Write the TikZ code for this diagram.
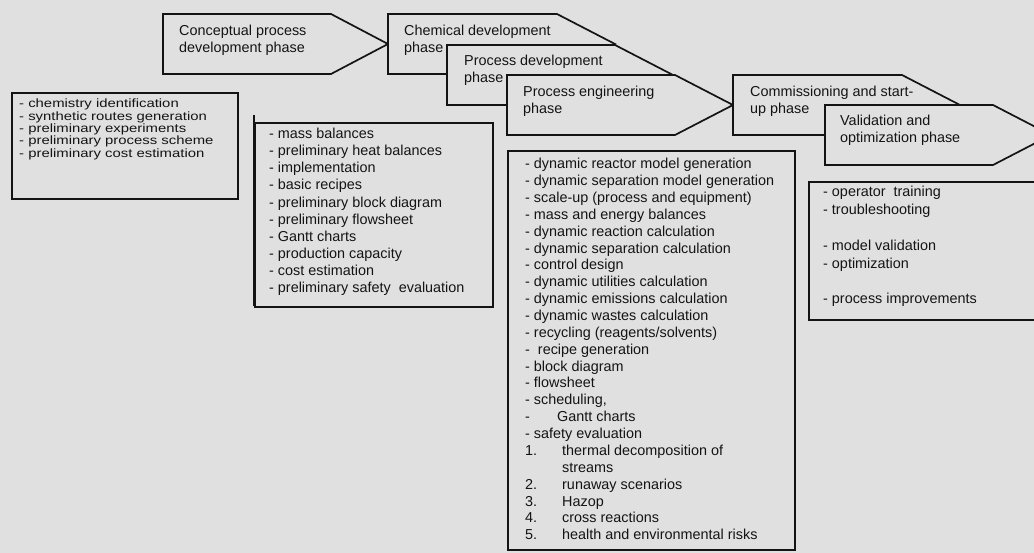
\documentclass[tikz,border=0pt]{standalone}
\usepackage{fontspec}
\setmainfont{Liberation Sans}
\newfontfamily\widefont[FakeStretch=1.24]{Liberation Sans}
\definecolor{paper}{RGB}{224,224,224}
\definecolor{ink}{RGB}{20,20,20}
\begin{document}
\begin{tikzpicture}[x=1pt,y=-1pt,
  phase/.style={draw=ink,line width=1.7pt,fill=paper,line join=miter},
  listbox/.style={draw=ink,line width=1.3pt},
  lbl/.style={anchor=base west,inner sep=0pt,align=left,text=ink,
    font=\fontsize{14.4}{16.7}\selectfont},
  small/.style={anchor=base west,inner sep=0pt,align=left,text=ink,
    font=\widefont\fontsize{12}{12.4}\selectfont}]
\fill[paper] (0,0) rectangle (1034,553);
\useasboundingbox (0,0) rectangle (1034,553);
\begin{scope}
\clip (0,0) rectangle (1034,553);
% phase arrows (node anchor = baseline of the last line)
\draw[phase] (163,14) -- (331,14) -- (388,44) -- (331,74) -- (163,74) -- cycle;
\node[lbl] (lconc) at (179,52.7) {Conceptual process\\development phase};
\draw[phase] (388,14) -- (557,14) -- (615,44) -- (557,74) -- (388,74) -- cycle;
\node[lbl] (lchem) at (404,52.7) {Chemical development\\phase};
\draw[phase] (447,45) -- (615,45) -- (673,75) -- (615,105) -- (447,105) -- cycle;
\node[lbl] (lpdev) at (464,82.7) {Process development\\phase};
\draw[phase] (507,75) -- (675,75) -- (733,105) -- (675,135) -- (507,135) -- cycle;
\node[lbl] (lpeng) at (523,113.2) {Process engineering\\phase};
\draw[phase] (733,75) -- (902,75) -- (960,105) -- (902,135) -- (733,135) -- cycle;
\node[lbl] (lcomm) at (750,113.2) {Commissioning and start-\\up phase};
\draw[phase] (825,105) -- (993,105) -- (1051,135) -- (993,165) -- (825,165) -- cycle;
\node[lbl] (lval) at (840,142.7) {Validation and\\optimization phase};
% list boxes
\draw[listbox] (12,93) rectangle (238,199);
\draw[listbox] (12,93) -- (12,200);
\node[small] (tconc) at (19,157.3) {- chemistry identification\\- synthetic routes generation\\- preliminary experiments\\- preliminary process scheme\\- preliminary cost estimation};
\draw[listbox] (255,123) rectangle (493,307);
\draw[listbox] (254,115) -- (254,306);
\node[lbl,font=\fontsize{14.4}{17.1}\selectfont] (tchem) at (269,292.6) {- mass balances\\- preliminary heat balances\\- implementation\\- basic recipes\\- preliminary block diagram\\- preliminary flowsheet\\- Gantt charts\\- production capacity\\- cost estimation\\- preliminary safety\ \ evaluation};
\draw[listbox] (508,151) rectangle (795,550);
\node[lbl,font=\fontsize{14.4}{16.87}\selectfont] (teng) at (525,539.8) {- dynamic reactor model generation\\- dynamic separation model generation\\- scale-up (process and equipment)\\- mass and energy balances\\- dynamic reaction calculation\\- dynamic separation calculation\\- control design\\- dynamic utilities calculation\\- dynamic emissions calculation\\- dynamic wastes calculation\\- recycling (reagents/solvents)\\-\ \ recipe generation\\- block diagram\\- flowsheet\\- scheduling,\\\makebox[32pt][l]{-}Gantt charts\\- safety evaluation\\\makebox[37pt][l]{1.}thermal decomposition of\\\hspace*{37pt}streams\\\makebox[37pt][l]{2.}runaway scenarios\\\makebox[37pt][l]{3.}Hazop\\\makebox[37pt][l]{4.}cross reactions\\\makebox[37pt][l]{5.}health and environmental risks};
\draw[listbox] (809,182) rectangle (1040,320);
\node[lbl,font=\fontsize{14.4}{17.8}\selectfont] (tval) at (823,303.8) {- operator\ \ training\\- troubleshooting\\\mbox{}\\- model validation\\- optimization\\\mbox{}\\- process improvements};
\end{scope}
\end{tikzpicture}
\end{document}
